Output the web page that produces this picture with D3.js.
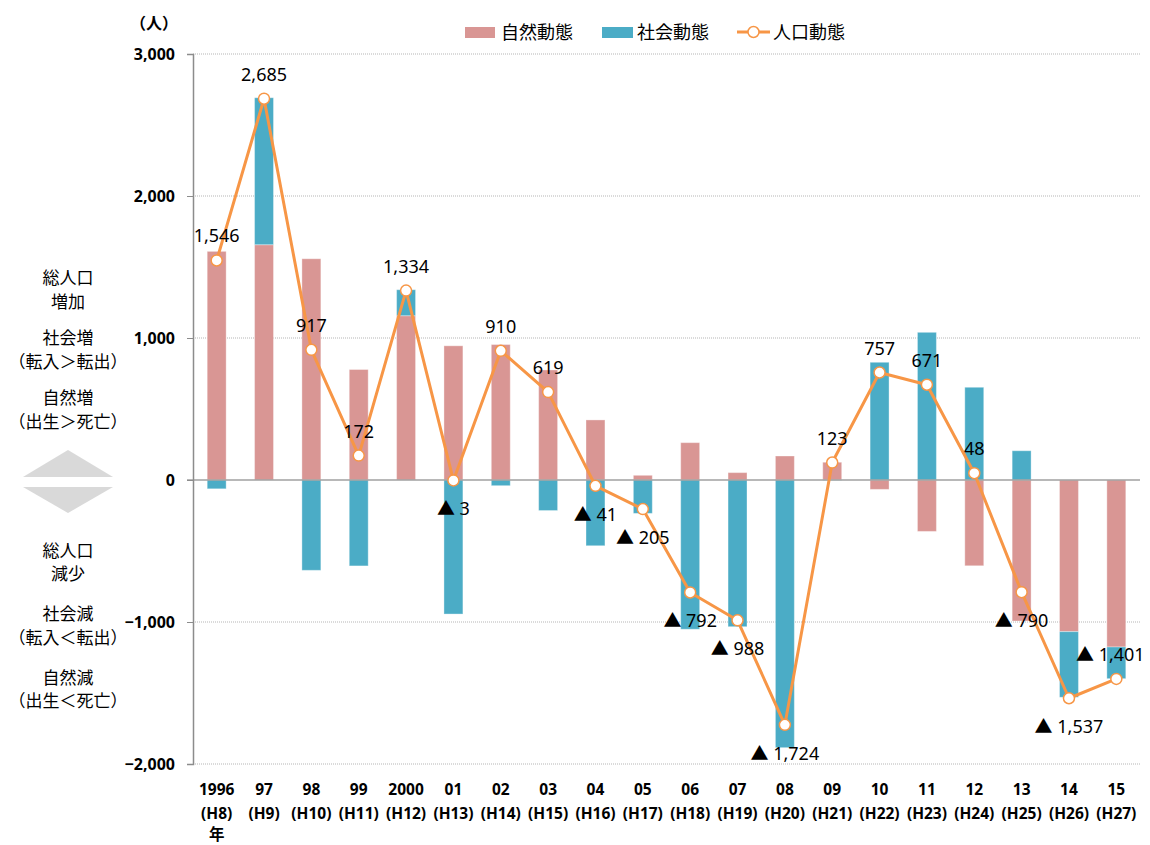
<!DOCTYPE html>
<html>
<head>
<meta charset="utf-8">
<script src="https://cdn.jsdelivr.net/npm/d3@7"></script>
<style>
  body { margin: 0; background: #fff; }
  text { font-family: "Noto Sans", "Noto Sans CJK JP", sans-serif; fill: #000; }
</style>
</head>
<body>
<div class="plots"></div>
<script>
// data
var years  = ["1996","97","98","99","2000","01","02","03","04","05","06","07","08","09","10","11","12","13","14","15"];
var heisei = ["(H8)","(H9)","(H10)","(H11)","(H12)","(H13)","(H14)","(H15)","(H16)","(H17)","(H18)","(H19)","(H20)","(H21)","(H22)","(H23)","(H24)","(H25)","(H26)","(H27)"];
var natural = [1610,1657,1558,778,1157,945,954,775,423,33,263,52,169,125,-66,-362,-604,-993,-1068,-1176];
var social  = [-62,1035,-636,-605,183,-944,-40,-215,-463,-235,-1051,-1033,-1885,-2,829,1040,653,206,-462,-223];
var total   = [1546,2685,917,172,1334,-3,910,619,-41,-205,-792,-988,-1724,123,757,671,48,-790,-1537,-1401];
var yTicks  = [-2000,-1000,0,1000,2000,3000];
var flipLabel = ["15"]; // label put on the other side of the point
var seriesNames = ["自然動態","社会動態","人口動態"];
var upNotes   = [["総人口","増加"],["社会増","（転入＞転出）"],["自然増","（出生＞死亡）"]];
var downNotes = [["総人口","減少"],["社会減","（転入＜転出）"],["自然減","（出生＜死亡）"]];

var W = 1150, H = 845;
var margin = {top: 54, right: 10, bottom: 81, left: 193};
var colors = {natural: "#d99694", social: "#4bacc6", line: "#f79646"};

var svg = d3.select(".plots").append("svg")
    .attr("width", W)
    .attr("height", H);

var x = d3.scaleBand()
    .domain(years)
    .range([margin.left, 1140])
    .paddingInner(0.6)
    .paddingOuter(0.3);

var y = d3.scaleLinear()
    .domain([-2000, 3000])
    .range([764, 54]);

// gridlines
svg.append("g").selectAll("line")
    .data(yTicks.filter(function(d) { return d != 0; }))
  .enter().append("line")
    .attr("x1", margin.left).attr("x2", 1140)
    .attr("y1", function(d) { return y(d); })
    .attr("y2", function(d) { return y(d); })
    .attr("stroke", "#b5b5b5")
    .attr("stroke-dasharray", "1,1");

// stacked bars
var rows = years.map(function(yr, i) {
  return {year: yr, natural: natural[i], social: social[i]};
});
var stack = d3.stack()
    .keys(["natural", "social"])
    .offset(d3.stackOffsetDiverging);
var layers = stack(rows);

svg.append("g").selectAll("g")
    .data(layers)
  .enter().append("g")
    .attr("fill", function(d) { return colors[d.key]; })
  .selectAll("rect")
    .data(function(d) { return d; })
  .enter().append("rect")
    .attr("x", function(d) { return x(d.data.year); })
    .attr("width", x.bandwidth())
    .attr("y", function(d) { return y(Math.max(d[0], d[1])); })
    .attr("height", function(d) { return Math.abs(y(d[0]) - y(d[1])); })
    .attr("stroke", "#fff")
    .attr("stroke-opacity", 0.35)
    .attr("stroke-width", 1);

// zero line
svg.append("line")
    .attr("x1", margin.left - 6).attr("x2", 1140)
    .attr("y1", y(0)).attr("y2", y(0))
    .attr("stroke", "#a0a0a0")
    .attr("stroke-width", 1.5);

// y axis
var yAxis = svg.append("g")
    .attr("transform", "translate(" + margin.left + ",0)")
    .call(d3.axisLeft(y).tickValues(yTicks).tickFormat(d3.format(",")).tickSize(6).tickPadding(12));
yAxis.select(".domain").attr("stroke", "#8c8c8c").attr("stroke-width", 1.5);
yAxis.selectAll(".tick line").attr("stroke", "#8c8c8c");
yAxis.selectAll("text")
    .style("font-size", "16px")
    .style("font-weight", "bold")
    .style("font-family", "'Noto Sans', sans-serif");

svg.append("text")
    .attr("x", 178).attr("y", 23)
    .attr("text-anchor", "end")
    .attr("dominant-baseline", "central")
    .style("font-size", "16px")
    .style("font-weight", "bold")
    .text("（人）");

// x labels
var xAxis = svg.append("g")
    .attr("transform", "translate(0,764)")
    .call(d3.axisBottom(x).tickSize(0).tickFormat(""));
xAxis.select(".domain").remove();
var xt = xAxis.selectAll(".tick").append("g")
    .style("font-size", "15.5px")
    .style("font-weight", "bold");
xt.append("text")
    .attr("y", 25).attr("text-anchor", "middle").attr("dominant-baseline", "central")
    .text(function(d) { return d; });
xt.append("text")
    .attr("y", 49).attr("text-anchor", "middle").attr("dominant-baseline", "central")
    .text(function(d, i) { return heisei[i]; });
svg.append("text")
    .attr("x", x(years[0]) + x.bandwidth() / 2).attr("y", 834)
    .attr("text-anchor", "middle").attr("dominant-baseline", "central")
    .style("font-size", "15.5px").style("font-weight", "bold")
    .text("年");

// population line
var cx = function(d, i) { return x(years[i]) + x.bandwidth() / 2; };
var line = d3.line()
    .x(cx)
    .y(function(d) { return y(d); });

svg.append("path")
    .datum(total)
    .attr("fill", "none")
    .attr("stroke", colors.line)
    .attr("stroke-width", 3)
    .attr("stroke-linejoin", "round")
    .attr("d", line);

svg.append("g").selectAll("circle")
    .data(total)
  .enter().append("circle")
    .attr("cx", cx)
    .attr("cy", function(d) { return y(d); })
    .attr("r", 5.5)
    .attr("fill", "#fff")
    .attr("stroke", colors.line)
    .attr("stroke-width", 1.5);

var fmt = d3.format(",");
svg.append("g").selectAll("text")
    .data(total)
  .enter().append("text")
    .attr("x", function(d, i) {
      return cx(d, i) - (flipLabel.indexOf(years[i]) >= 0 ? 6 : 0);
    })
    .attr("y", function(d, i) {
      var up = d >= 0;
      if (flipLabel.indexOf(years[i]) >= 0) up = !up;
      return y(d) + (up ? -25 : 28);
    })
    .attr("text-anchor", "middle")
    .attr("dominant-baseline", "central")
    .style("font-size", "18px")
    .text(function(d) { return d < 0 ? "▲ " + fmt(-d) : fmt(d); });

// legend
var lg = svg.append("g").style("font-size", "18px");
lg.append("rect").attr("x", 465).attr("y", 27).attr("width", 30).attr("height", 11).attr("fill", colors.natural);
lg.append("text").attr("x", 501).attr("y", 32).attr("dominant-baseline", "central").text(seriesNames[0]);
lg.append("rect").attr("x", 602).attr("y", 27).attr("width", 31).attr("height", 11).attr("fill", colors.social);
lg.append("text").attr("x", 637).attr("y", 32).attr("dominant-baseline", "central").text(seriesNames[1]);
lg.append("line").attr("x1", 737).attr("x2", 770).attr("y1", 32).attr("y2", 32)
    .attr("stroke", colors.line).attr("stroke-width", 3);
lg.append("circle").attr("cx", 753.5).attr("cy", 32).attr("r", 5.5)
    .attr("fill", "#fff").attr("stroke", colors.line).attr("stroke-width", 1.5);
lg.append("text").attr("x", 773).attr("y", 32).attr("dominant-baseline", "central").text(seriesNames[2]);

// left side notes
var notes = svg.append("g").style("font-size", "17px").attr("text-anchor", "middle");
upNotes.forEach(function(pair, i) {
  pair.forEach(function(t, j) {
    notes.append("text").attr("x", 68).attr("y", 277 + i * 60 + j * 24)
      .attr("dominant-baseline", "central").text(t);
  });
});
downNotes.forEach(function(pair, i) {
  pair.forEach(function(t, j) {
    notes.append("text").attr("x", 68).attr("y", 550 + i * 63.5 + j * 23.5)
      .attr("dominant-baseline", "central").text(t);
  });
});
notes.append("path").attr("d", "M23,477L68,450L113,477Z").attr("fill", "#d9d9d9");
notes.append("path").attr("d", "M23,487L68,513L113,487Z").attr("fill", "#d9d9d9");
</script>
</body>
</html>
